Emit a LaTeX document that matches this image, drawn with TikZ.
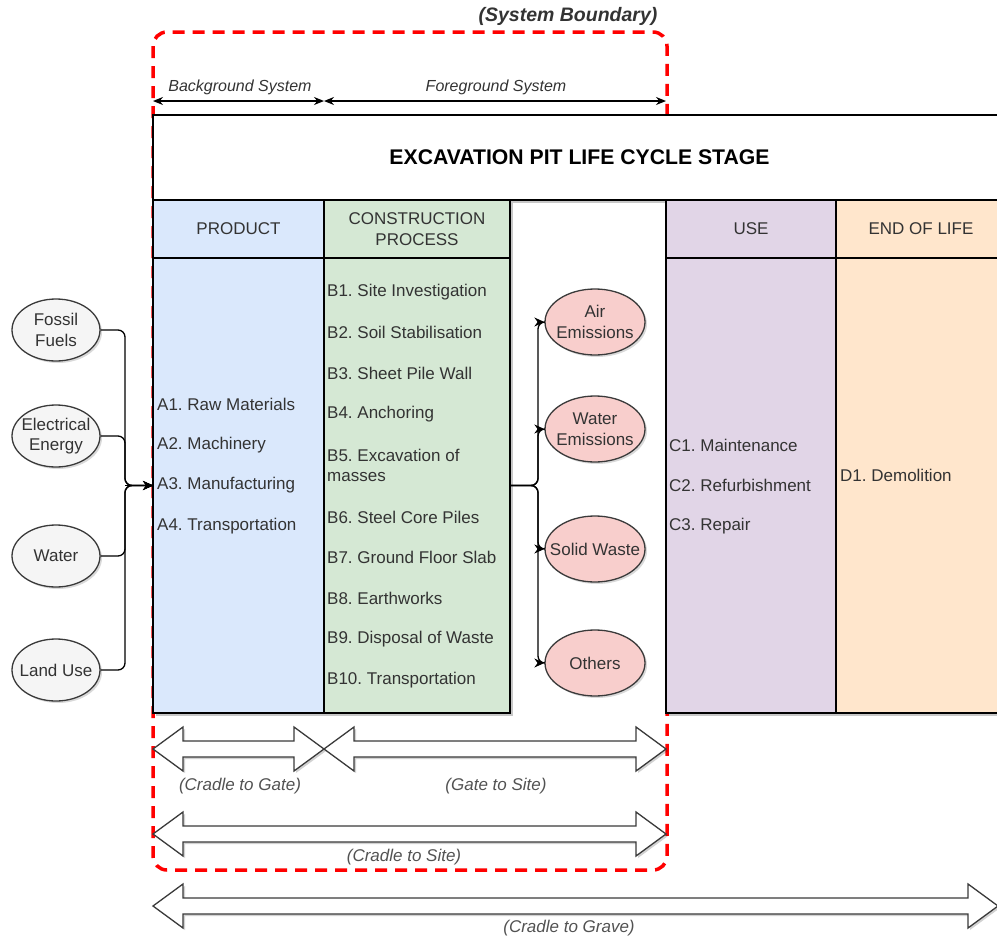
\documentclass[tikz,border=0pt]{standalone}
\usepackage{fontspec}
\setmainfont{Liberation Sans}
\usetikzlibrary{arrows.meta,shadows,shapes.geometric}

\definecolor{prodfill}{HTML}{DAE8FC}
\definecolor{consfill}{HTML}{D5E8D4}
\definecolor{usefill}{HTML}{E1D5E7}
\definecolor{eolfill}{HTML}{FFE6CC}
\definecolor{emisfill}{HTML}{F8CECC}
\definecolor{resfill}{HTML}{F5F5F5}
\definecolor{txt}{HTML}{333333}
\definecolor{edge}{HTML}{3A3A3A}
\definecolor{bndred}{HTML}{FF0000}

% zero-width line so that long labels may run over the ellipse outline
\newcommand\nw[1]{\makebox[0pt]{#1}}

\tikzset{
  stage/.style={rectangle, draw=black, line width=2.4pt, inner sep=0pt,
    outer sep=0pt, anchor=north west, text=txt, align=center,
    drop shadow={shadow xshift=2.5pt, shadow yshift=-2.5pt, opacity=0.22, fill=black}},
  item/.style={anchor=west, inner sep=0pt, text=txt, align=left},
  res/.style={ellipse, draw=edge, line width=1.3pt, fill=resfill, inner sep=0pt,
    minimum width=88pt, minimum height=62pt, align=center, text=txt,
    drop shadow={shadow xshift=2pt, shadow yshift=-2pt, opacity=0.15, fill=black}},
  emis/.style={ellipse, draw=edge, line width=1.3pt, fill=emisfill, inner sep=0pt,
    minimum width=100pt, minimum height=66pt, align=center, text=txt,
    drop shadow={shadow xshift=2pt, shadow yshift=-2pt, opacity=0.15, fill=black}},
  tip/.style={-{Stealth[length=10pt,width=9pt]}},
  conn/.style={draw=black, line width=1.3pt, rounded corners=7pt},
  dim/.style={draw=black, line width=1.4pt,
    {Stealth[length=10pt,width=8pt]}-{Stealth[length=10pt,width=8pt]}},
  dimlabel/.style={inner sep=0pt, text=txt, font=\itshape\fontsize{16}{19}\selectfont},
  flex/.style={draw=edge, fill=white, line width=1.3pt, line join=miter,
    drop shadow={shadow xshift=2pt, shadow yshift=-2pt, opacity=0.18, fill=black}},
  flexlabel/.style={inner sep=0pt, text=txt!85!white, font=\itshape\fontsize{17}{20}\selectfont},
  boundary/.style={draw=bndred, line width=3.5pt, dash pattern=on 12pt off 8pt,
    rounded corners=14pt},
}

% double-headed block arrow from x=#1 to x=#2 at height #3
\newcommand\flexarrow[3]{%
  \draw[flex] (#1,#3) -- ++(30,-22) -- ++(0,14) -- ({#2-30},{#3-8}) -- ++(0,-14)
    -- (#2,#3) -- ++(-30,22) -- ++(0,-14) -- ({#1+30},{#3+8}) -- ++(0,14) -- cycle;}

\begin{document}
\frenchspacing
\begin{tikzpicture}[x=1pt, y=-1pt, font=\fontsize{17}{20.5}\selectfont]
\clip (0,0) rectangle (997,940);

% system boundary
\draw[boundary] (153,32) rectangle (667,870);
\node[inner sep=0pt, text=txt, font=\bfseries\itshape\fontsize{19.5}{23}\selectfont]
  (sysb) at (568,16) {(System Boundary)};

% background / foreground dimension lines
\coordinate (bgL) at (153,101);
\coordinate (bgR) at (324,101);
\coordinate (fgR) at (666,101);
\draw[dim] (bgL) -- (bgR);
\draw[dim] (bgR) -- (fgR);
\node[dimlabel] (bglab) at (240,87) {Background System};
\node[dimlabel] (fglab) at (496,87) {Foreground System};

% title banner
\node[stage, fill=white, minimum width=853pt, minimum height=85pt,
  font=\bfseries\fontsize{21.2}{25}\selectfont, text=black] (title) at (153,115)
  {EXCAVATION PIT LIFE CYCLE STAGE};

% stage headers
\node[stage, fill=prodfill, minimum width=171pt, minimum height=58pt] (hP) at (153,200) {PRODUCT};
\node[stage, fill=consfill, minimum width=186pt, minimum height=58pt] (hC) at (324,200) {CONSTRUCTION\\PROCESS};
\node[stage, fill=usefill, minimum width=170pt, minimum height=58pt] (hU) at (666,200) {USE};
\node[stage, fill=eolfill, minimum width=170pt, minimum height=58pt] (hE) at (836,200) {END OF LIFE};

% stage bodies
\node[stage, fill=prodfill, minimum width=171pt, minimum height=455pt] (bP) at (153,258) {};
\node[stage, fill=consfill, minimum width=186pt, minimum height=455pt] (bC) at (324,258) {};
\node[stage, fill=usefill, minimum width=170pt, minimum height=455pt] (bU) at (666,258) {};
\node[stage, fill=eolfill, minimum width=170pt, minimum height=455pt] (bE) at (836,258) {};

% product items
\node[item] (a1) at (157,404) {A1. Raw Materials};
\node[item] (a2) at (157,445) {A2. Machinery};
\node[item] (a3) at (157,485) {A3. Manufacturing};
\node[item] (a4) at (157,526) {A4. Transportation};

% construction items
\node[item] (b1) at (327,292) {B1. Site Investigation};
\node[item] (b2) at (327,332) {B2. Soil Stabilisation};
\node[item] (b3) at (327,373) {B3. Sheet Pile Wall};
\node[item] (b4) at (327,414) {B4. Anchoring};
\node[item] (b5) at (327,465.5) {B5. Excavation of\\masses};
\node[item] (b6) at (327,517) {B6. Steel Core Piles};
\node[item] (b7) at (327,557) {B7. Ground Floor Slab};
\node[item] (b8) at (327,598) {B8. Earthworks};
\node[item] (b9) at (327,639) {B9. Disposal of Waste};
\node[item] (b10) at (327,680) {B10. Transportation};

% use and end-of-life items
\node[item] (c1) at (669,445) {C1. Maintenance};
\node[item] (c2) at (669,485) {C2. Refurbishment};
\node[item] (c3) at (669,526) {C3. Repair};
\node[item] (d1) at (840,475) {D1. Demolition};

% resource inputs
\node[res] (fossil) at (56,330) {\nw{Fossil}\\\nw{Fuels}};
\node[res] (elec) at (56,436) {\nw{Electrical}\\\nw{Energy}};
\node[res] (water) at (56,556) {\nw{Water}};
\node[res] (land) at (56,670) {\nw{Land Use}};

\coordinate (inbus) at (125,0);
\foreach \r in {fossil,elec,water,land}{
  \draw[conn] (\r.east) -- (inbus |- \r.east) -- (inbus |- bP.west) -- (bP.west);
  \draw[tip, line width=1.3pt] (inbus |- bP.west) -- (bP.west);
}

% outputs
\node[emis] (air) at (595,322) {\nw{Air}\\\nw{Emissions}};
\node[emis] (wem) at (595,429) {\nw{Water}\\\nw{Emissions}};
\node[emis] (solid) at (595,549) {\nw{Solid Waste}};
\node[emis] (other) at (595,663) {\nw{Others}};

\coordinate (outbus) at (538,0);
\foreach \o in {air,wem,solid,other}{
  \draw[conn] (bC.east) -- (outbus |- bC.east) -- (outbus |- \o.west) -- (\o.west);
  \draw[tip, line width=1.3pt] (outbus |- \o.west) -- (\o.west);
}

% scope arrows
\flexarrow{153}{324}{749}
\flexarrow{324}{666}{749}
\flexarrow{153}{666}{834}
\flexarrow{153}{998}{906}
\node[flexlabel] (c2g) at (240,786) {(Cradle to Gate)};
\node[flexlabel] (g2s) at (496,786) {(Gate to Site)};
\node[flexlabel] (c2s) at (404,857) {(Cradle to Site)};
\node[flexlabel] (c2gr) at (569,928) {(Cradle to Grave)};
\end{tikzpicture}
\end{document}
